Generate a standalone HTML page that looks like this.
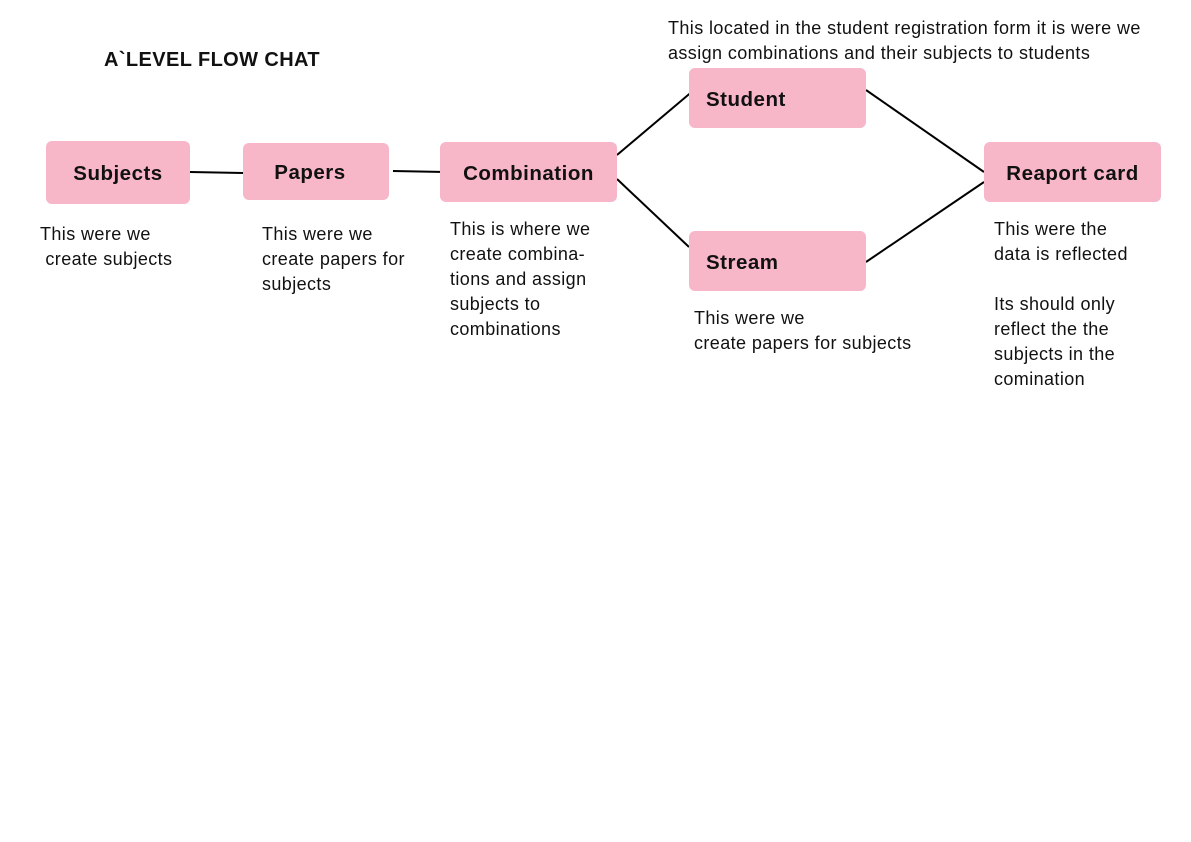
<!DOCTYPE html>
<html><head><meta charset="utf-8"><style>
body{margin:0;width:1191px;height:842px;background:#fff;position:relative;font-family:"Liberation Sans",Arial,sans-serif;color:#111;overflow:hidden}
.b{position:absolute;background:#f8b6c9;border-radius:6px;font-weight:bold;font-size:20.5px;letter-spacing:0.5px;display:flex;align-items:center;justify-content:center;padding-top:3px;box-sizing:border-box}
.t{position:absolute;font-size:18px;letter-spacing:0.4px;line-height:25px;white-space:nowrap}
</style></head><body>
<svg width="1191" height="842" style="position:absolute;left:0;top:0">
<g stroke="#000" stroke-width="2" fill="none">
<line x1="190" y1="172" x2="243" y2="173"/>
<line x1="393" y1="171" x2="445" y2="172"/>
<line x1="617" y1="155" x2="694" y2="90"/>
<line x1="617" y1="179" x2="689" y2="247"/>
<line x1="866" y1="90" x2="984" y2="172"/>
<line x1="866" y1="262" x2="984" y2="182"/>
</g></svg>
<div class="t" style="left:104px;top:48px;font-weight:bold;font-size:20px">A`LEVEL FLOW CHAT</div>
<div class="b" style="left:46px;top:141px;width:144px;height:63px">Subjects</div>
<div class="b" style="left:243px;top:143px;width:146px;height:57px;padding-right:12px">Papers</div>
<div class="b" style="left:440px;top:142px;width:177px;height:60px">Combination</div>
<div class="b" style="left:689px;top:68px;width:177px;height:60px;justify-content:flex-start;padding-left:17px">Student</div>
<div class="b" style="left:689px;top:231px;width:177px;height:60px;justify-content:flex-start;padding-left:17px">Stream</div>
<div class="b" style="left:984px;top:142px;width:177px;height:60px">Reaport card</div>
<div class="t" style="left:40px;top:222px">This were we<br>&nbsp;create subjects</div>
<div class="t" style="left:262px;top:222px">This were we<br>create papers for<br>subjects</div>
<div class="t" style="left:450px;top:217px">This is where we<br>create combina-<br>tions and assign<br>subjects to<br>combinations</div>
<div class="t" style="left:668px;top:16px">This located in the student registration form it is were we<br>assign combinations and their subjects to students</div>
<div class="t" style="left:694px;top:306px">This were we<br>create papers for subjects</div>
<div class="t" style="left:994px;top:217px">This were the<br>data is reflected<br><br>Its should only<br>reflect the the<br>subjects in the<br>comination</div>
</body></html>
